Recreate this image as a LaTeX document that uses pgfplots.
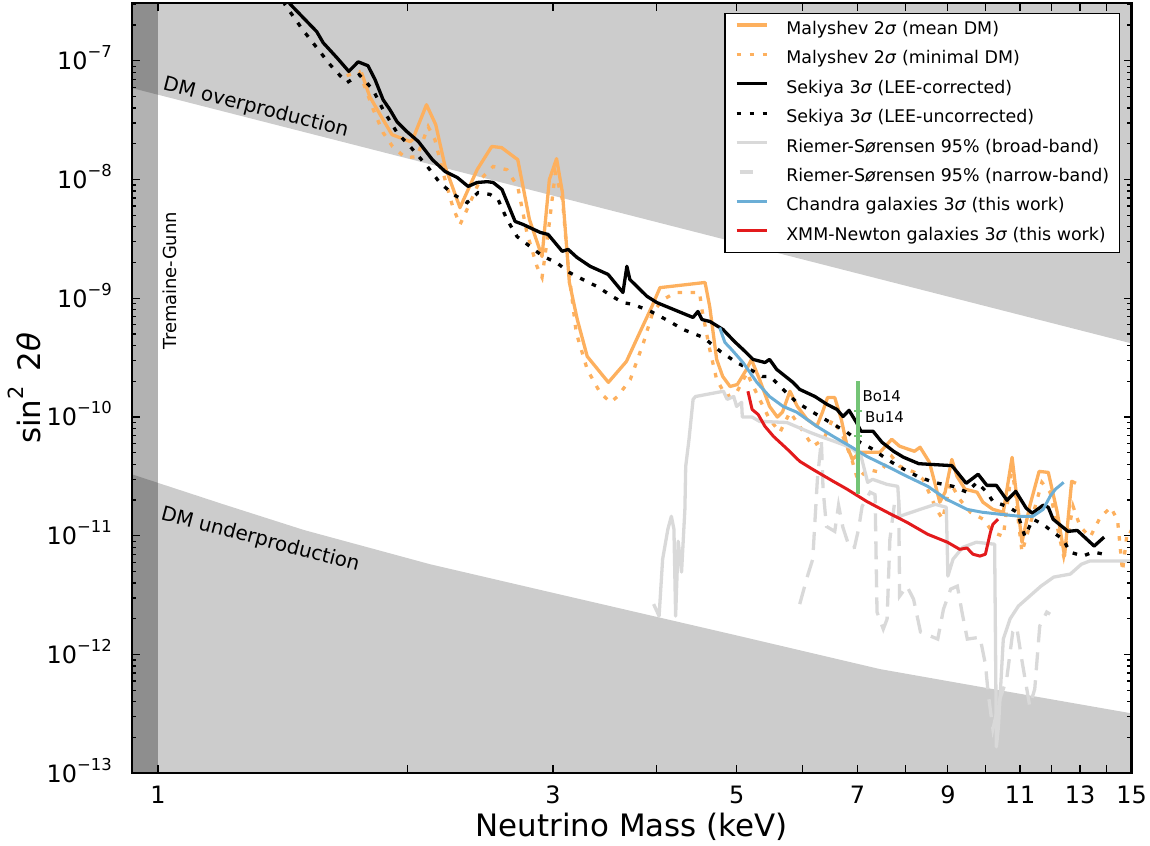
\documentclass[border=0pt]{standalone}
\usepackage{fontspec}
\setmainfont{DejaVu Sans}
\usepackage{pgfplots}
\pgfplotsset{compat=1.18}

\definecolor{cOr}{RGB}{253,176,94}
\definecolor{cGrL}{RGB}{217,217,217}
\definecolor{cBl}{RGB}{107,174,214}
\definecolor{cRd}{RGB}{227,26,28}
\definecolor{cGn}{RGB}{116,196,118}
\definecolor{cBand}{RGB}{204,204,204}

\newcommand{\fs}[1]{\fontsize{#1}{#1}\selectfont}
\newcommand{\tp}[1]{10\raisebox{0.5em}{\fs{16.5}−#1}}
\pgfplotsset{narrowleg/.style={legend image code/.code={\draw[##1,solid] (3bp,5bp) -- (16bp,5bp);}}}

\begin{document}
\begin{tikzpicture}
\begin{axis}[
  scale only axis, width=999.5bp, height=770bp,
  xmode=log, ymode=log,
  xmin=0.93, xmax=15, ymin=1e-13, ymax=3.05e-7,
  axis on top,
  axis line style={line width=2.2bp},
  every tick/.style={black, line width=1.2bp},
  major tick length=8bp, minor tick length=4.5bp,
  xtick={1,2,3,4,5,6,7,8,9,10,11,12,13,14,15},
  xticklabels={1,,3,,5,,7,,9,,11,,13,,15},
  minor xtick={},
  ytick={1e-13,1e-12,1e-11,1e-10,1e-9,1e-8,1e-7},
  yticklabels={\tp{13},\tp{12},\tp{11},\tp{10},\tp{9},\tp{8},\tp{7}},
  minor ytick={2e-13,3e-13,4e-13,5e-13,6e-13,7e-13,8e-13,9e-13,
    2e-12,3e-12,4e-12,5e-12,6e-12,7e-12,8e-12,9e-12,
    2e-11,3e-11,4e-11,5e-11,6e-11,7e-11,8e-11,9e-11,
    2e-10,3e-10,4e-10,5e-10,6e-10,7e-10,8e-10,9e-10,
    2e-9,3e-9,4e-9,5e-9,6e-9,7e-9,8e-9,9e-9,
    2e-8,3e-8,4e-8,5e-8,6e-8,7e-8,8e-8,9e-8,2e-7,3e-7},
  xticklabel style={font=\fs{24}, anchor=base, inner sep=0pt, yshift=-29.7bp},
  yticklabel style={font=\fs{24}, anchor=base east, inner sep=0pt, xshift=-20bp, yshift=-8.7bp},
  xlabel={Neutrino Mass (keV)},
  ylabel={sin\raisebox{0.55em}{\fs{21}2}\hspace{15bp}2\textit{θ}},
  xlabel style={font=\fs{31}, at={(axis description cs:0.5,-0.0823)}, anchor=base, inner sep=0pt},
  ylabel style={font=\fs{31}, at={(axis description cs:-0.092,0.5)}, anchor=base, inner sep=0pt},
  legend style={at={(axis description cs:0.9885,0.9878)}, anchor=north east,
    draw=black, line width=1.5bp, fill=white, font=\fs{17.5},
    inner xsep=10bp, inner ysep=8bp, row sep=12.4bp,
    nodes={inner sep=0pt, text height=13bp, text depth=4bp},
    /tikz/every odd column/.append style={column sep=18bp}},
  legend cell align=left,
  legend image code/.code={\draw[#1] (0bp,5bp) -- (30bp,5bp);},
]
% bands
\addplot[fill=cBand, draw=none, forget plot] coordinates {(0.9,6.25e-8) (16,3.72e-10) (16,1e-6) (0.9,1e-6)} -- cycle;
\addplot[fill=cBand, draw=none, forget plot] coordinates {(0.9,3.55e-11) (1,2.79e-11) (1.2,1.84e-11) (1.5,1.12e-11) (2.13,5.77e-12) (3,3.31e-12) (5,1.45e-12) (7.45,7.55e-13) (10,5.25e-13) (15,3.2e-13) (16,3.0e-13) (16,1e-14) (0.9,1e-14)} -- cycle;
\addplot[fill=black, fill opacity=0.3, draw=none, forget plot] coordinates {(0.9,1e-14) (1,1e-14) (1,1e-6) (0.9,1e-6)} -- cycle;

% Malyshev mean DM
\addplot[cOr, line width=3.3bp, line join=round] coordinates {
(1.761,7.98e-8) (1.802,4.99e-8) (1.870,3.2e-8) (1.917,2.39e-8) (2.016,2.09e-8) (2.03,2.17e-8) (2.11,4.27e-8) (2.165,2.90e-8) (2.222,1.29e-8) (2.316,5.8e-9) (2.429,1.21e-8) (2.53,1.90e-8) (2.6,1.86e-8) (2.72,1.47e-8) (2.81,4.6e-9) (2.91,2.25e-9) (2.97,1.0e-8) (3.03,1.5e-8) (3.08,7.77e-9) (3.14,1.36e-9) (3.21,6.63e-10) (3.30,3.24e-10) (3.5,1.96e-10) (3.68,2.94e-10) (3.82,5.16e-10) (3.95,8.5e-10) (4.04,1.23e-9) (4.58,1.36e-9) (4.64,8.5e-10) (4.73,3.06e-10) (4.81,2.2e-10) (4.91,1.81e-10) (5.01,1.88e-10) (5.14,2.52e-10) (5.21,3.06e-10) (5.33,2.07e-10) (5.48,1.23e-10) (5.6,1.0e-10) (5.68,1.10e-10) (5.8,1.65e-10) (5.92,1.23e-10) (6.08,9.6e-11) (6.25,8.36e-11) (6.35,1.10e-10) (6.44,1.46e-10) (6.57,1.46e-10) (6.69,9.6e-11) (6.80,5.68e-11) (6.9,4.4e-11) (7.05,5.05e-11) (7.45,5.05e-11) (7.7,6.5e-11) (7.87,5.68e-11) (8.2,5.15e-11) (8.33,5.57e-11) (8.55,4.16e-11) (8.8,1.92e-11) (8.93,2.33e-11) (9.1,4.4e-11) (9.23,3.17e-11) (9.44,2.47e-11) (9.76,2.33e-11) (9.92,1.92e-11) (10.2,1.67e-11) (10.5,1.58e-11) (10.76,4.58e-11) (11.06,8.83e-12) (11.3,1.77e-11) (11.6,3.49e-11) (11.9,3.42e-11) (12.2,1.58e-11) (12.45,6.75e-12) (12.7,2.88e-11) (12.85,2.77e-11)};
\addlegendentry{Malyshev 2\textit{σ} (mean DM)}

% Malyshev minimal DM
\addplot[cOr, line width=3.3bp, dash pattern=on 4.5bp off 8.5bp] coordinates {
(1.69,7.5e-8) (1.75,8.1e-8) (1.82,3.88e-8) (1.87,2.49e-8) (1.92,1.90e-8) (1.99,1.53e-8) (2.055,1.56e-8) (2.12,2.79e-8) (2.16,2.17e-8) (2.21,1.14e-8) (2.27,5.9e-9) (2.316,4.17e-9) (2.37,5.9e-9) (2.45,1.0e-8) (2.54,1.29e-8) (2.64,1.21e-8) (2.72,8.7e-9) (2.79,3.57e-9) (2.87,1.85e-9) (2.91,1.5e-9) (2.96,3.57e-9) (3.02,1.14e-8) (3.08,6.8e-9) (3.13,1.85e-9) (3.2,5.16e-10) (3.3,2.52e-10) (3.42,1.61e-10) (3.52,1.33e-10) (3.59,1.49e-10) (3.72,2.07e-10) (3.86,4.25e-10) (3.96,7.6e-10) (4.07,9.7e-10) (4.22,1.12e-9) (4.51,1.12e-9) (4.54,8.05e-10) (4.64,3.71e-10) (4.73,2.07e-10) (4.86,1.49e-10) (5.0,1.61e-10) (5.15,2.38e-10) (5.19,2.07e-10) (5.33,1.41e-10) (5.48,9.6e-11) (5.64,7.44e-11) (5.8,1.10e-10) (5.96,8.36e-11) (6.18,5.68e-11) (6.37,6.5e-11) (6.53,9.6e-11) (6.72,6.88e-11) (6.89,4.4e-11) (7.0,2.99e-11) (7.2,3.63e-11) (7.45,3.43e-11) (7.7,4.67e-11) (7.87,3.85e-11) (8.2,3.43e-11) (8.4,2.99e-11) (8.72,1.67e-11) (8.87,1.38e-11) (9.06,2.82e-11) (9.3,2.03e-11) (9.58,1.58e-11) (9.93,1.38e-11) (10.2,1.07e-11) (10.5,9.9e-12) (10.76,3.85e-11) (11.06,7.3e-12) (11.36,1.38e-11) (11.69,2.82e-11) (11.96,2.33e-11) (12.24,1.07e-11) (12.42,6.75e-12) (12.75,1.77e-11) (13.0,1.20e-11) (13.37,9.75e-12) (13.75,1.43e-11) (14.16,1.74e-11) (14.43,1.35e-11) (14.63,5.04e-12) (14.83,1.11e-11) (15.2,1.03e-11)};
\addlegendentry{Malyshev 2\textit{σ} (minimal DM)}

% Sekiya LEE-corrected
\addplot[black, line width=3.3bp, line join=round] coordinates {
(1.415,4.0e-7) (1.444,3.0e-7) (1.555,1.76e-7) (1.583,1.42e-7) (1.645,1.06e-7) (1.70,8.15e-8) (1.745,9.8e-8) (1.793,9.1e-8) (1.829,6.93e-8) (1.870,4.71e-8) (1.906,3.88e-8) (1.944,3.07e-8) (1.999,2.53e-8) (2.063,2.09e-8) (2.145,1.47e-8) (2.222,1.17e-8) (2.299,1.04e-8) (2.369,8.76e-9) (2.429,9.45e-9) (2.499,9.6e-9) (2.54,9.45e-9) (2.603,8.25e-9) (2.70,4.44e-9) (2.76,4.19e-9) (2.895,3.59e-9) (2.96,3.45e-9) (3.078,2.49e-9) (3.13,2.58e-9) (3.207,2.21e-9) (3.327,1.86e-9) (3.497,1.59e-9) (3.645,1.12e-9) (3.685,1.86e-9) (3.716,1.44e-9) (3.897,1.04e-9) (4.006,9.2e-10) (4.429,6.9e-10) (4.49,7.75e-10) (4.54,6.63e-10) (4.643,6.38e-10) (4.814,5.46e-10) (4.97,4.33e-10) (5.119,3.57e-10) (5.234,3.06e-10) (5.411,2.88e-10) (5.48,3.06e-10) (5.59,2.52e-10) (5.849,1.96e-10) (5.96,1.71e-10) (6.218,1.49e-10) (6.429,1.28e-10) (6.61,1.16e-10) (6.723,1.01e-10) (6.836,1.14e-10) (6.98,9.0e-11) (7.067,7.6e-11) (7.308,7.6e-11) (7.494,6.13e-11) (7.74,5.15e-11) (7.95,4.6e-11) (8.3,4.05e-11) (9.1,3.9e-11) (9.47,2.77e-11) (9.79,3.30e-11) (10.03,2.66e-11) (10.3,2.66e-11) (10.61,1.99e-11) (10.87,2.37e-11) (11.19,1.71e-11) (11.38,1.55e-11) (11.73,1.81e-11) (11.9,1.74e-11) (12.06,1.38e-11) (12.57,1.09e-11) (12.9,1.11e-11) (13.52,8.2e-12) (13.9,9.75e-12)};
\addlegendentry{Sekiya 3\textit{σ} (LEE-corrected)}

% Sekiya LEE-uncorrected
\addplot[black, line width=3.3bp, dash pattern=on 4.5bp off 8.5bp] coordinates {
(1.396,4.0e-7) (1.424,2.96e-7) (1.496,1.82e-7) (1.614,9.27e-8) (1.69,6.53e-8) (1.75,7.64e-8) (1.818,5.72e-8) (1.87,3.88e-8) (1.944,2.49e-8) (2.016,1.90e-8) (2.115,1.29e-8) (2.19,9.4e-9) (2.274,7.5e-9) (2.363,6.4e-9) (2.436,7.77e-9) (2.518,7.5e-9) (2.575,6.8e-9) (2.64,4.6e-9) (2.715,3.31e-9) (2.815,2.73e-9) (2.92,2.25e-9) (3.03,2.0e-9) (3.14,1.65e-9) (3.26,1.44e-9) (3.39,1.26e-9) (3.545,1.03e-9) (3.645,9.2e-10) (3.75,8.9e-10) (3.94,7.75e-10) (4.15,6.38e-10) (4.31,5.46e-10) (4.56,4.68e-10) (4.78,3.57e-10) (5.0,2.88e-10) (5.19,2.52e-10) (5.37,2.2e-10) (5.49,2.2e-10) (5.69,1.71e-10) (5.91,1.33e-10) (6.18,1.1e-10) (6.49,9.0e-11) (6.80,7.44e-11) (7.05,6.13e-11) (7.31,5.35e-11) (7.6,4.4e-11) (7.88,3.78e-11) (8.27,3.17e-11) (8.65,2.82e-11) (9.13,2.61e-11) (9.49,2.33e-11) (9.76,2.82e-11) (10.03,2.33e-11) (10.2,1.95e-11) (10.61,1.77e-11) (10.91,1.58e-11) (11.15,9.9e-12) (11.4,1.38e-11) (11.73,1.25e-11) (12.06,1.07e-11) (12.4,9.35e-12) (12.64,7.3e-12) (13.1,6.75e-12) (13.48,7.3e-12) (13.9,7.0e-12)};
\addlegendentry{Sekiya 3\textit{σ} (LEE-uncorrected)}

% Riemer-Sorensen broad-band
\addplot[cGrL, line width=3.3bp, line join=round] coordinates {
(3.97,2.66e-12) (4.03,2.11e-12) (4.07,6.36e-12) (4.13,1.14e-11) (4.17,1.46e-11) (4.20,1.14e-11) (4.22,2.11e-12) (4.25,9.0e-12) (4.29,4.95e-12) (4.33,1.67e-11) (4.34,3.85e-11) (4.38,6.5e-11) (4.43,1.41e-10) (4.46,1.49e-10) (4.82,1.65e-10) (4.87,1.41e-10) (4.96,1.49e-10) (5.0,1.23e-10) (5.07,1.33e-10) (5.08,1.0e-10) (5.22,1.0e-10) (5.33,9.2e-11) (5.75,9.0e-11) (6.13,7.44e-11) (6.36,6.75e-11) (6.61,6.13e-11) (6.86,5.57e-11) (7.07,4.67e-11) (7.2,2.82e-11) (7.3,2.99e-11) (7.6,2.71e-11) (7.83,2.61e-11) (7.87,1.46e-11) (8.33,1.67e-11) (8.69,1.84e-11) (8.96,1.74e-11) (9.0,4.58e-12) (9.13,6.36e-12) (9.38,8.0e-12) (9.74,8.83e-12) (10.25,8.5e-12) (10.3,1.67e-13) (10.36,2.5e-13) (10.5,1.35e-12) (10.7,2.0e-12) (10.95,2.56e-12) (11.66,3.77e-12) (12.08,4.49e-12) (12.65,4.76e-12) (13.05,5.77e-12) (13.35,6.13e-12) (15,6.13e-12)};
\addlegendentry{Riemer-S\textit{ø}rensen 95\% (broad-band)}

% Riemer-Sorensen narrow-band
\addplot[cGrL, line width=3.3bp, dash pattern=on 18bp off 10bp, narrowleg] coordinates {
(5.96,2.66e-12) (6.09,4.58e-12) (6.18,6.36e-12) (6.22,1.38e-11) (6.26,2.99e-11) (6.33,6.38e-11) (6.36,2.47e-11) (6.42,1.20e-11) (6.57,1.09e-11) (6.64,1.81e-11) (6.72,1.18e-11) (6.85,7.87e-12) (6.94,8.0e-12) (7.02,1.14e-11) (7.09,1.77e-11) (7.25,2.33e-11) (7.35,2.22e-11) (7.39,2.28e-12) (7.52,1.64e-12) (7.6,1.99e-12) (7.66,9.35e-12) (7.77,2.03e-11) (7.85,2.03e-11) (7.87,3.1e-12) (8.03,3.77e-12) (8.18,2.93e-12) (8.34,1.55e-12) (8.75,1.35e-12) (8.89,2.41e-12) (9.07,3.56e-12) (9.24,3.77e-12) (9.37,2.19e-12) (9.5,1.35e-12) (9.84,1.40e-12) (9.99,8.3e-13) (10.07,4.65e-13) (10.2,2.36e-13) (10.4,4.22e-13) (10.6,6.22e-13) (10.78,1.55e-12) (10.9,1.70e-12) (11.05,9.2e-13) (11.3,3.69e-13) (11.46,5.13e-13) (11.62,1.74e-12) (11.85,2.28e-12) (11.96,2.19e-12)};
\addlegendentry{Riemer-S\textit{ø}rensen 95\% (narrow-band)}

% Chandra
\addplot[cBl, line width=3bp, line join=round] coordinates {
(4.77,5.67e-10) (4.84,4.25e-10) (4.93,3.71e-10) (5.09,2.88e-10) (5.29,1.96e-10) (5.48,1.49e-10) (5.69,1.23e-10) (5.91,1.10e-10) (6.25,8.36e-11) (6.54,6.88e-11) (6.86,5.68e-11) (7.18,4.67e-11) (7.6,3.85e-11) (8.03,3.17e-11) (8.51,2.61e-11) (8.97,2.03e-11) (9.49,1.67e-11) (9.9,1.58e-11) (10.4,1.52e-11) (11.0,1.46e-11) (11.4,1.46e-11) (11.73,1.67e-11) (11.96,2.15e-11) (12.14,2.47e-11) (12.42,2.82e-11)};
\addlegendentry{Chandra galaxies 3\textit{σ} (this work)}

% XMM-Newton
\addplot[cRd, line width=3bp, line join=round] coordinates {
(5.16,1.65e-10) (5.22,1.16e-10) (5.31,1.05e-10) (5.41,8.36e-11) (5.54,6.88e-11) (5.76,5.35e-11) (5.96,4.24e-11) (6.18,3.63e-11) (6.54,2.88e-11) (6.8,2.47e-11) (7.18,1.95e-11) (7.6,1.58e-11) (8.03,1.30e-11) (8.51,1.03e-11) (8.99,8.83e-12) (9.3,7.7e-12) (9.49,7.9e-12) (9.65,7.0e-12) (9.84,6.75e-12) (9.99,7.0e-12) (10.13,1.07e-11) (10.2,1.25e-11) (10.35,1.38e-11)};
\addlegendentry{XMM-Newton galaxies 3\textit{σ} (this work)}

% line at 7 keV
\addplot[cGn, line width=4.5bp, forget plot] coordinates {(7.013,2.0e-10) (7.013,2.24e-11)};
\addplot[cGn, only marks, mark=-, mark size=4bp, mark options={line width=2.5bp}, forget plot] coordinates {(7.013,1.12e-10) (7.013,6.9e-11)};

\node[rotate=90, anchor=base west, inner sep=0pt, font=\fs{18}] at (axis cs:1.054,3.71e-10) {Tremaine-Gunn};
\node[rotate=-14.4, anchor=base west, inner sep=0pt, font=\fs{20}] at (axis cs:1.011,5.72e-8) {DM overproduction};
\node[rotate=-14.7, anchor=base west, inner sep=0pt, font=\fs{20}] at (axis cs:1.005,1.38e-11) {DM underproduction};
\node[anchor=base west, inner sep=0pt, font=\fs{15}] at (axis cs:7.095,1.36e-10) {Bo14};
\node[anchor=base west, inner sep=0pt, font=\fs{15}] at (axis cs:7.145,9.07e-11) {Bu14};

\coordinate (bbA) at (rel axis cs:0,0);
\coordinate (bbB) at (rel axis cs:1,1);
\end{axis}
\pgfresetboundingbox
\path ([shift={(-132bp,-72.7bp)}]bbA) rectangle ([shift={(18.5bp,3.3bp)}]bbB);
\end{tikzpicture}
\end{document}
